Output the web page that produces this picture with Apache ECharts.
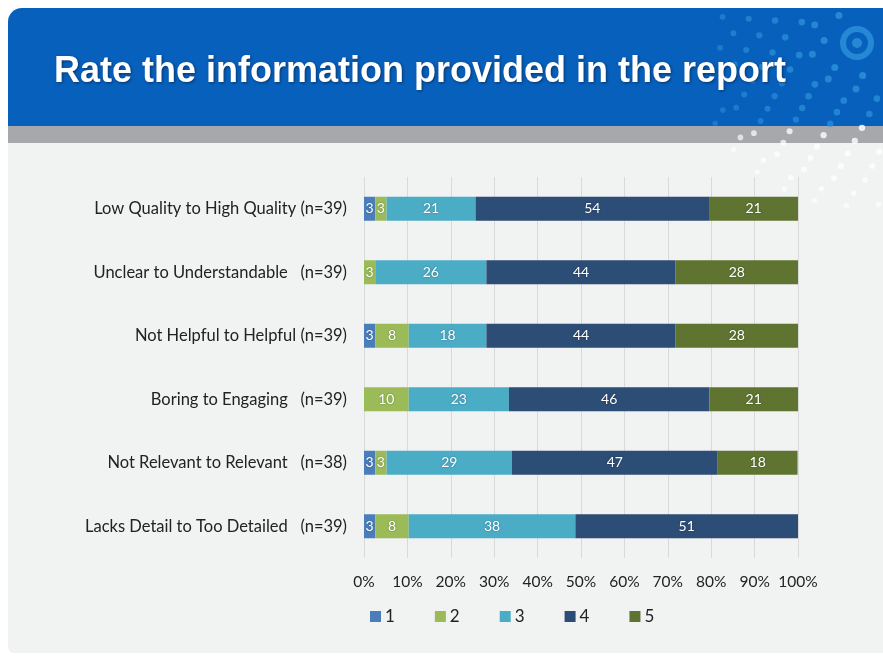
<!DOCTYPE html>
<html>
<head>
<meta charset="utf-8">
<script src="https://cdn.jsdelivr.net/npm/echarts@6/dist/echarts.min.js"></script>
<style>
  html, body { margin: 0; padding: 0; background: #ffffff; }
  #chart { width: 883px; height: 659px; }
</style>
</head>
<body>
<div id="chart"></div>
<script type="application/javascript">
// rows, top to bottom
const categories = [
  'Low Quality to High Quality (n=39)',
  'Unclear to Understandable   (n=39)',
  'Not Helpful to Helpful (n=39)',
  'Boring to Engaging   (n=39)',
  'Not Relevant to Relevant   (n=38)',
  'Lacks Detail to Too Detailed   (n=39)'
];
const ratingNames = ['1', '2', '3', '4', '5'];
// percent of answers per rating
const rating1 = [2.6, 0, 2.6, 0, 2.6, 2.6];
const rating2 = [2.6, 2.6, 7.7, 10.3, 2.6, 7.7];
const rating3 = [20.5, 25.6, 17.9, 23.1, 28.9, 38.4];
const rating4 = [53.8, 43.6, 43.6, 46.2, 47.4, 51.3];
const rating5 = [20.5, 28.2, 28.2, 20.5, 18.4, 0];
const ratingColors = ['#4a7ebb', '#9bbb59', '#4bacc6', '#2c4d75', '#5e7430'];
const xTicks = [0, 10, 20, 30, 40, 50, 60, 70, 80, 90, 100];

class RatingChart {
  chart = null;

  constructor(dom) {
    this.chart = echarts.init(dom);
    this.chart.setOption(this.buildOption());
  }

  // decorative dot rings in the top right corner of the slide
  getDots() {
    const cx = 857, cy = 43;
    const dots = [];
    for (let k = 1; k <= 11; k++) {
      const r = 20 + k * 13;
      const n = Math.round(r / 7);
      for (let j = 0; j < n; j++) {
        const a = Math.PI * 0.3 + (j + (k % 2) * 0.5) * (Math.PI * 1.45 / n);
        const x = cx + r * Math.cos(a);
        const y = cy + r * Math.sin(a);
        if (y < 13 || y > 212 || x > 880 || x < 712) continue;
        const onHeader = y < 126;
        const fade = Math.max(0.2, 1 - k / 13);
        dots.push({
          type: 'circle',
          silent: true,
          z: -8,
          shape: { cx: x, cy: y, r: 3.6 - k * 0.08 },
          style: {
            fill: onHeader ? '#2a8fd8' : '#ffffff',
            opacity: onHeader ? 0.45 + 0.45 * fade : 0.55 + 0.45 * fade
          }
        });
      }
    }
    return dots;
  }

  getBarSerie(name, data, color) {
    return {
      name,
      type: 'bar',
      stack: 'total',
      barWidth: 24,
      data,
      itemStyle: { color },
      label: {
        show: true,
        position: 'inside',
        color: '#ffffff',
        fontFamily: 'Lato',
        fontSize: 14,
        textShadowColor: 'rgba(0,0,0,0.35)',
        textShadowBlur: 2,
        formatter: p => p.value > 0 ? Math.round(p.value) : ''
      }
    }
  }

  buildOption() {
    const allSeries = [rating1, rating2, rating3, rating4, rating5];
    return {
      animation: false,
      backgroundColor: '#ffffff',
      graphic: [
        { type: 'rect', shape: { x: 8, y: 8, width: 880, height: 645, r: [14, 0, 0, 6] }, style: { fill: '#f1f2f2' }, z: -10 },
        { type: 'rect', shape: { x: 8, y: 8, width: 880, height: 118, r: [14, 0, 0, 0] }, style: { fill: '#0860bd' }, z: -9 },
        { type: 'rect', shape: { x: 8, y: 126, width: 880, height: 17 }, style: { fill: '#a7a8ab' }, z: -9 },
        ...this.getDots(),
        { type: 'circle', shape: { cx: 857, cy: 43, r: 14 }, style: { fill: 'none', stroke: '#2a8fd8', lineWidth: 6, opacity: 0.85 }, z: -7 },
        { type: 'circle', shape: { cx: 857, cy: 43, r: 5 }, style: { fill: '#2a8fd8', opacity: 0.85 }, z: -7 }
      ],
      title: {
        text: 'Rate the information provided in the report',
        left: 49,
        top: 49,
        textStyle: {
          color: '#ffffff',
          fontFamily: 'Liberation Sans',
          fontWeight: 'bold',
          fontSize: 36,
          textShadowColor: 'rgba(0,0,0,0.45)',
          textShadowBlur: 3,
          textShadowOffsetX: 1,
          textShadowOffsetY: 1
        }
      },
      legend: {
        data: ratingNames,
        left: 365,
        top: 603,
        itemWidth: 11,
        itemHeight: 11,
        itemGap: 40,
        icon: 'rect',
        textStyle: { fontFamily: 'Lato', fontSize: 17, color: '#222222', padding: [0, 0, 0, -1] }
      },
      grid: {
        left: 364,
        right: 85,
        top: 177,
        height: 381
      },
      xAxis: {
        type: 'value',
        min: 0,
        max: 100,
        interval: 10,
        axisLine: { show: false },
        axisTick: { show: false },
        splitLine: { show: true, lineStyle: { color: '#d9d9d9', width: 1 } },
        axisLabel: {
          margin: 16,
          fontFamily: 'Lato',
          fontSize: 15.5,
          color: '#222222',
          formatter: v => xTicks.includes(v) ? v + '%' : ''
        }
      },
      yAxis: {
        type: 'category',
        inverse: true,
        data: categories,
        axisLine: { show: false },
        axisTick: { show: false },
        axisLabel: {
          margin: 17,
          fontFamily: 'Lato',
          fontSize: 16.5,
          color: '#222222'
        }
      },
      series: allSeries.map((d, i) => this.getBarSerie(ratingNames[i], d, ratingColors[i]))
    };
  }
}

new RatingChart(document.getElementById('chart'));
</script>
</body>
</html>
